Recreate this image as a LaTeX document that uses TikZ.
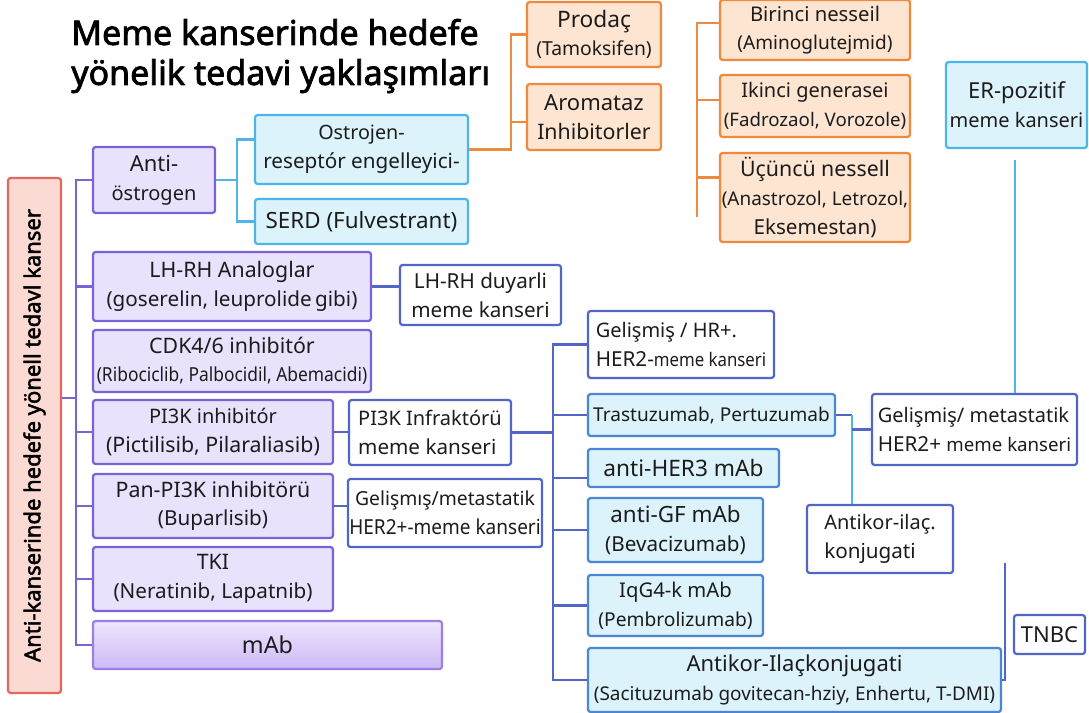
\documentclass[tikz,border=0pt]{standalone}
\usepackage{fontspec}
\usepackage{graphicx}
\setmainfont{Noto Sans}[AutoFakeBold=2.2]
\usetikzlibrary{calc}
\definecolor{ofill}{HTML}{FDE5D2}
\definecolor{oline}{HTML}{EE8A3E}
\definecolor{cfill}{HTML}{DDF3FC}
\definecolor{cline}{HTML}{4DB6E6}
\definecolor{mline}{HTML}{4A86D4}
\definecolor{pfill}{HTML}{E9E2FC}
\definecolor{pline}{HTML}{7A62D9}
\definecolor{bline}{HTML}{5266C8}
\definecolor{rfill}{HTML}{FBDAD3}
\definecolor{rline}{HTML}{E2685F}
\definecolor{txt}{HTML}{1C1C1C}
\definecolor{mabtop}{HTML}{EEE6FD}
\definecolor{mabbot}{HTML}{CDB9F6}
\definecolor{mabline}{HTML}{9B7FE3}
\newcommand\fs[1]{\fontsize{#1}{21.5}\selectfont}
\newcommand\cond[2]{\scalebox{#1}[1]{#2}}
\newcommand\mybox[7]{%
 \pgfmathsetmacro\bxcx{(#2+#4)/2}\pgfmathsetmacro\bxcy{(#3+#5)/2}%
 \pgfmathsetmacro\bxw{(#4-#2)*0.75}\pgfmathsetmacro\bxh{(#5-#3)*0.75}%
 \node[#6, minimum width=\bxw pt, minimum height=\bxh pt] (#1) at (\bxcx,\bxcy) {#7};}
\tikzset{
 base/.style={rounded corners=2pt, line width=1.7pt, inner sep=1pt, align=center, text=txt, font=\fs{15.5}},
 obox/.style={base, draw=oline, fill=ofill},
 cbox/.style={base, draw=cline, fill=cfill},
 mbox/.style={base, draw=mline, fill=cfill},
 pbox/.style={base, draw=pline, fill=pfill},
 wbox/.style={base, draw=bline, fill=white},
 rbox/.style={rounded corners=2pt, line width=1.7pt, draw=rline, fill=rfill},
 mabbox/.style={base, draw=mabline, top color=mabtop, bottom color=mabbot},
 pl/.style={draw=pline, line width=1.8pt},
 cl/.style={draw=cline, line width=1.8pt},
 ol/.style={draw=oline, line width=1.8pt},
 bl/.style={draw=bline, line width=1.8pt},
}
\begin{document}
\begin{tikzpicture}[x=0.75pt,y=-0.75pt]
\fill[white] (0,0) rectangle (1089,713);
\useasboundingbox (0,0) rectangle (1089,713);
% title
\node[anchor=west, align=left, text=black, inner sep=0pt, font=\fontsize{25.5}{30}\selectfont\bfseries] (title) at (71,56) {Meme kanserinde hedefe\\yönelik tedavi yaklaşımları};
% orange
\mybox{prodac}{527}{2}{661}{67}{obox}{\fs{17}Prodaç\\\fs{14.5}(Tamoksifen)}
\mybox{arom}{527}{84}{661}{150}{obox}{\fs{16.5}Aromataz\\\fs{16}Inhibitorler}
\mybox{bir}{720}{0}{910}{60}{obox}{\fs{15.2}Birinci nesseil\\\fs{14.3}(Aminoglutejmid)}
\mybox{iki}{720}{75}{910}{137}{obox}{\fs{15}Ikinci generasei\\\fs{14}(Fadrozaol, Vorozole)}
\mybox{ucu}{720}{153}{910}{242}{obox}{\fs{16}Üçüncü nessell\\\fs{14.2}(Anastrozol, Letrozol,\\\fs{15.5}Eksemestan)}
% cyan
\mybox{er}{946}{62}{1087}{148}{cbox}{\fs{16.5}ER-pozitif\\\fs{15}meme kanseri}
\mybox{ostro}{255}{115}{468}{184}{cbox}{\fs{14.8}Ostrojen-\\reseptór engelleyici-}
\mybox{serd}{255}{199}{468}{244}{cbox}{\fs{16.8}SERD (Fulvestrant)}
% purple column
\mybox{red}{8}{178}{61}{693}{rbox}{}
\node[rotate=90, text=black, font=\fontsize{16.5}{18}\selectfont\bfseries] (redtxt) at (red.center) {Anti-kanserinde hedefe yönell tedavl kanser};
\mybox{anti}{93}{147}{215}{213}{pbox}{\fs{16.5}Anti-\\\fs{15}östrogen}
\mybox{lhrh}{93}{252}{371}{321}{pbox}{\fs{16}LH-RH Analoglar\\\fs{15.5}(goserelin, leuprolide\,gibi)}
\mybox{lhd}{400}{265}{561}{325}{wbox}{LH-RH duyarli\\meme kanseri}
\mybox{cdk}{93}{330}{371}{392}{pbox}{\fs{16}CDK4/6 inhibitór\\\fs{14.5}\cond{0.9}{(Ribociclib, Palbocidil, Abemacidi)}}
\mybox{pi3k}{93}{400}{333}{464}{pbox}{\fs{15}PI3K inhibitór\\\fs{16}(Pictilisib, Pilaraliasib)}
\mybox{pinf}{349}{400}{511}{465}{wbox,align=left}{\fs{15}PI3K Infraktórü\\meme kanseri}
\mybox{pan}{93}{474}{333}{538}{pbox}{\fs{16}Pan-PI3K inhibitörü\\(Buparlisib)}
\mybox{gmet}{349}{479}{541}{547}{wbox}{\fs{14.5}Gelişmış/metastatik\\\cond{0.92}{HER2+-meme kanseri}}
\mybox{tki}{93}{547}{333}{611}{pbox}{\fs{16}TKI\\(Neratinib, Lapatnib)}
\mybox{mab}{93}{621}{442}{669}{mabbox}{\fs{17.5}mAb}
% right blue column
\mybox{hr}{588}{311}{774}{378}{wbox,align=left}{\fs{15}Gelişmiş / HR+.\\HER2-\fs{14}\cond{0.9}{meme kanseri}}
\mybox{tras}{588}{394}{835}{436}{mbox}{\fs{14.3}Trastuzumab, Pertuzumab}
\mybox{her3}{588}{449}{779}{487}{mbox}{\fs{17}anti-HER3 mAb}
\mybox{gf}{588}{498}{763}{562}{mbox}{\fs{16.8}anti-GF mAb\\(Bevacizumab)}
\mybox{igg}{588}{575}{763}{636}{mbox}{\fs{15.2}IqG4-k mAb\\\fs{14.4}(Pembrolizumab)}
\mybox{adc2}{588}{648}{1001}{712}{mbox}{\fs{16.5}Antikor-Ilaçkonjugati\\\fs{14.2}(Sacituzumab govitecan-hziy, Enhertu, T-DMI)}
\mybox{met}{872}{394}{1077}{465}{wbox,align=left}{\fs{15}Gelişmiş/ metastatik\\HER2+ \fs{14}meme kanseri}
\mybox{adc}{807}{505}{953}{573}{wbox,align=left}{\fs{15}Antikor-ilaç.\\konjugati}
\mybox{tnbc}{1014}{615}{1085}{654}{wbox}{\fs{16.5}TNBC}
% ---- connectors
\coordinate (tm) at (76,398);
\draw[pl] (red.east |- tm) -- (tm);
\draw[pl] (anti.west) -- (anti.west -| tm) -- (mab.west -| tm) -- (mab.west);
\foreach \n in {lhrh,pi3k,pan,tki} {\draw[pl] (\n.west) -- (\n.west -| tm);}
\draw[bl] (lhrh.east) -- (lhrh.east -| lhd.west);
\draw[bl] (pi3k.east) -- (pi3k.east -| pinf.west);
\draw[bl] (pan.east) -- (pan.east -| gmet.west);
\coordinate (bv) at (553,400);
\draw[bl] (pinf.east) -- (pinf.east -| bv);
\draw[bl] (hr.west) -- (hr.west -| bv) -- (adc2.west -| bv) -- (adc2.west);
\coordinate (h3) at ($(her3.west)+(0,10)$);
\draw[bl] (h3) -- (h3 -| bv);
\foreach \n in {tras,gf,igg} {\draw[bl] (\n.west) -- (\n.west -| bv);}
\coordinate (tj) at (852,415);
\draw[bl] (tras.east) -- (tras.east -| tj);
\draw[cl] (tras.east -| tj) -- (tj |- adc.north);
\draw[bl] (met.west -| tj) -- (met.west);
\coordinate (ere) at (1015,160);
\draw[cl] (ere) -- (ere |- met.north);
\coordinate (tnt) at (1005,563);
\draw[bl] (adc2.east) -- (adc2.east -| tnt) -- (tnt);
% cyan from anti
\coordinate (ca) at (237,180);
\coordinate (ow) at ($(ostro.west)+(0,-10)$);
\draw[cl] (anti.east) -- (anti.east -| ca);
\draw[cl] (ow) -- (ow -| ca) -- (serd.west -| ca) -- (serd.west);
% orange
\coordinate (oa) at (511,150);
\coordinate (aw) at ($(arom.west)+(0,5)$);
\draw[ol] (ostro.east) -- (ostro.east -| oa) -- (prodac.west -| oa) -- (prodac.west);
\draw[ol] (aw) -- (aw -| oa);
\coordinate (ob) at (697,217);
\coordinate (bw) at ($(bir.west)+(0,-7)$);
\coordinate (iw) at ($(iki.west)+(0,-6)$);
\coordinate (uw) at ($(ucu.west)+(0,-20)$);
\draw[ol] (bw) -- (bw -| ob) -- (ob);
\draw[ol] (iw) -- (iw -| ob);
\draw[ol] (uw) -- (uw -| ob);
\end{tikzpicture}
\end{document}
